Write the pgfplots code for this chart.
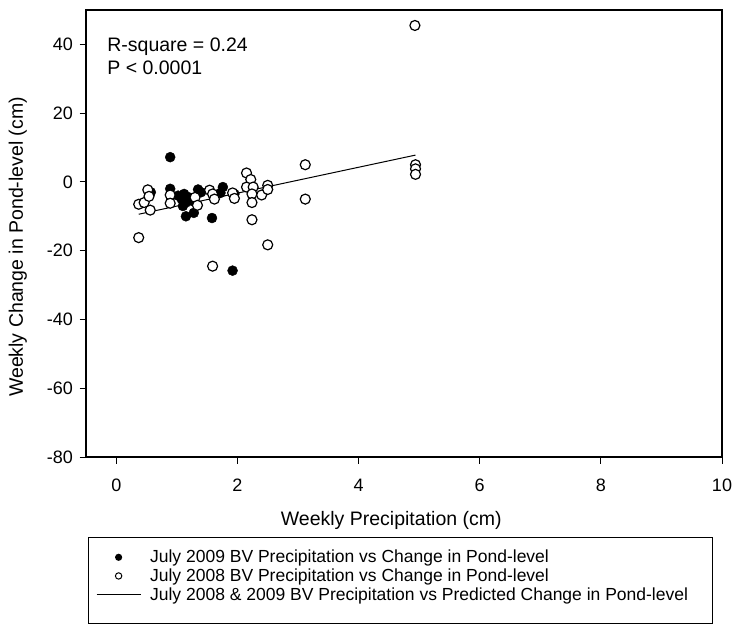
\documentclass[border=0pt]{standalone}
\usepackage{fontspec}
\setmainfont{Liberation Sans}
\usepackage{pgfplots}
\pgfplotsset{compat=1.18}
\begin{document}
\begin{tikzpicture}
\path[use as bounding box] (-86bp,-168bp) rectangle (649bp,457bp);
\begin{axis}[name=ax, at={(0,0)}, anchor=south west, scale only axis,
 width=636bp, height=447bp,
 xmin=-0.5, xmax=10, ymin=-80, ymax=50,
 xtick={0,2,...,10}, ytick={-80,-60,...,40},
 tick align=outside, xtick pos=bottom, ytick pos=left, major tick length=6.5bp,
 axis line style={line width=1.2bp}, tick style={line width=1bp, black},
 ticklabel style={font=\fontsize{18bp}{22bp}\selectfont},
 /pgf/number format/assume math mode=true,
 xticklabel style={yshift=-12bp},
 yticklabel style={xshift=-3bp},
 xlabel={Weekly Precipitation (cm)}, ylabel={Weekly Change in Pond-level (cm)},
 every axis x label/.style={at={(axis description cs:0.48,-0.143)}, anchor=center, font=\fontsize{19.5bp}{23bp}\selectfont},
 every axis y label/.style={at={(axis description cs:-0.107,0.47)}, anchor=center, rotate=90, font=\fontsize{19.5bp}{23bp}\selectfont},
 legend style={at={(axis description cs:0.003,-0.179)}, anchor=north west, draw=none, fill=none,
   font=\fontsize{17.5bp}{21bp}\selectfont, row sep=0.5bp, inner xsep=8bp, inner ysep=11bp,
   /tikz/every odd column/.append style={column sep=7bp}},
 legend cell align=left,
 clip=false,
]
\addplot[only marks, mark=*, mark size=5bp, mark options={fill=black, draw=black},
 legend image code/.code={\path[draw=none,fill=none] (0bp,0bp) -- (44bp,0bp); \path[fill=black, draw=none] (22bp,0bp) circle (3.6bp);}]
 coordinates {
 (0.89,7.2) (0.89,-2.0) (0.57,-3.0) (1.02,-4.0) (1.08,-5.0) (1.12,-3.5)
 (1.15,-6.0) (1.20,-4.5) (1.10,-7.0) (1.15,-10.0) (1.28,-9.0) (1.35,-2.2)
 (1.40,-3.0) (1.58,-10.5) (1.72,-3.2) (1.76,-1.5) (1.92,-25.8) (1.95,-3.5)
 (1.25,-5.5)
 };
\addlegendentry{July 2009 BV Precipitation vs Change in Pond-level}
\addplot[only marks, mark=*, mark size=5bp, mark options={fill=white, draw=black, line width=1.2bp},
 legend image code/.code={\path[draw=none,fill=none] (0bp,0bp) -- (44bp,0bp); \path[draw=black, line width=1bp, fill=white] (22bp,0bp) circle (3.2bp);}]
 coordinates {
 (0.37,-6.5) (0.37,-16.2) (0.46,-6.0) (0.52,-2.3) (0.54,-4.2) (0.56,-8.2)
 (0.89,-3.8) (0.89,-6.2) (1.30,-4.5) (1.34,-6.8) (1.54,-2.4) (1.59,-3.5)
 (1.62,-5.0) (1.59,-24.5) (1.92,-3.2) (1.95,-4.8) (2.15,2.6) (2.22,0.7)
 (2.15,-1.5) (2.26,-1.5) (2.24,-3.5) (2.24,-6.0) (2.24,-11.0) (2.40,-3.8)
 (2.50,-1.0) (2.50,-2.2) (2.50,-18.3) (3.12,5.0) (3.12,-5.0) (4.93,45.5)
 (4.94,5.0) (4.94,3.8) (4.94,2.2)
 };
\addlegendentry{July 2008 BV Precipitation vs Change in Pond-level}
\addplot[black, line width=1bp,
 legend image code/.code={\path[draw=black, line width=1bp] (0bp,0bp) -- (44bp,0bp);}]
 coordinates {(0.37,-9.4) (4.94,7.8)};
\addlegendentry{July 2008 \& 2009 BV Precipitation vs Predicted Change in Pond-level}
\node[anchor=base west, inner sep=0pt, font=\fontsize{19.5bp}{23bp}\selectfont] at (axis cs:-0.15,38.0) {R-square = 0.24};
\node[anchor=base west, inner sep=0pt, font=\fontsize{19.5bp}{23bp}\selectfont] at (axis cs:-0.15,31.25) {P < 0.0001};
\end{axis}
\draw[line width=1bp] ([shift={(2bp,-80bp)}]ax.south west) rectangle ++(624bp,-86bp);
\end{tikzpicture}
\end{document}
